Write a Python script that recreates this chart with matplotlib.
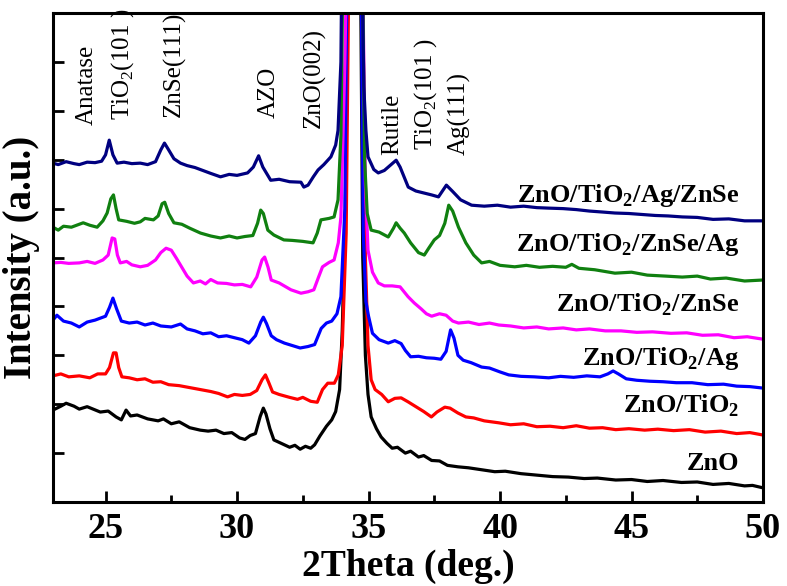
import matplotlib.pyplot as plt
from matplotlib.ticker import MultipleLocator

plt.rcParams['font.family'] = 'Liberation Serif'
plt.rcParams['mathtext.fontset'] = 'custom'
plt.rcParams['mathtext.rm'] = 'Liberation Serif'
plt.rcParams['mathtext.bf'] = 'Liberation Serif:bold'

# XRD patterns (2theta, offset intensity)
zno = [(23.0, 1.88), (23.3, 1.96), (23.5, 2.02), (23.8, 1.96), (24.0, 1.90), (24.3, 1.95),
       (24.8, 1.84), (25.1, 1.86), (25.4, 1.74), (25.6, 1.68), (25.78, 1.88), (25.95, 1.76),
       (26.2, 1.78), (26.6, 1.70), (27.0, 1.66), (27.2, 1.70), (27.5, 1.60), (27.8, 1.64),
       (28.2, 1.52), (28.6, 1.47), (28.9, 1.45), (29.2, 1.47), (29.5, 1.40), (29.8, 1.42),
       (30.1, 1.31), (30.3, 1.28), (30.5, 1.36), (30.7, 1.40), (30.88, 1.75), (31.0, 1.92),
       (31.1, 1.80), (31.25, 1.50), (31.4, 1.27), (31.6, 1.22), (32.0, 1.12), (32.2, 1.16),
       (32.4, 1.08), (32.6, 1.14), (32.8, 1.10), (32.95, 1.17), (33.15, 1.35), (33.4, 1.55),
       (33.6, 1.68), (33.75, 1.85), (33.9, 2.3), (34.0, 3.5), (34.12, 6.0), (34.22, 12.0),
       (34.45, 40.0), (34.68, 12.0), (34.78, 5.0), (34.88, 3.0), (34.98, 2.2), (35.1, 1.74),
       (35.3, 1.50), (35.48, 1.33), (35.7, 1.20), (35.9, 1.10), (36.1, 1.12), (36.4, 1.00),
       (36.6, 1.04), (36.9, 0.92), (37.1, 0.95), (37.4, 0.85), (37.7, 0.84), (38.0, 0.75),
       (38.4, 0.72), (38.8, 0.70), (39.3, 0.66), (39.8, 0.62), (40.2, 0.63), (40.8, 0.58),
       (41.4, 0.55), (42.0, 0.52), (42.6, 0.51), (43.2, 0.48), (43.7, 0.49), (44.4, 0.45),
       (45.0, 0.46), (45.6, 0.42), (46.2, 0.44), (46.9, 0.40), (47.5, 0.41), (48.1, 0.36),
       (48.7, 0.38), (49.3, 0.33), (49.6, 0.34), (50.0, 0.29)]

zno_tio2 = [(23.0, 2.58), (23.3, 2.62), (23.6, 2.56), (24.0, 2.58), (24.4, 2.54), (24.7, 2.62),
            (25.0, 2.62), (25.15, 2.75), (25.3, 3.05), (25.4, 3.05), (25.5, 2.75), (25.62, 2.56),
            (25.9, 2.54), (26.2, 2.50), (26.5, 2.52), (26.8, 2.45), (27.1, 2.46), (27.4, 2.40),
            (27.8, 2.38), (28.2, 2.34), (28.6, 2.30), (29.0, 2.26), (29.3, 2.22), (29.64, 2.15),
            (29.9, 2.20), (30.2, 2.18), (30.5, 2.20), (30.75, 2.28), (30.95, 2.50), (31.08, 2.60),
            (31.2, 2.45), (31.35, 2.25), (31.6, 2.20), (32.0, 2.14), (32.3, 2.10), (32.5, 2.14),
            (32.8, 2.06), (33.05, 2.04), (33.25, 2.30), (33.45, 2.43), (33.7, 2.43), (33.85, 2.60),
            (34.0, 3.2), (34.15, 5.5), (34.27, 12.0), (34.5, 40.0), (34.75, 12.0), (34.88, 5.0),
            (34.98, 3.2), (35.1, 2.5), (35.25, 2.30), (35.5, 2.20), (35.75, 2.05), (36.0, 2.12),
            (36.24, 2.13), (36.5, 2.05), (36.8, 1.95), (37.1, 1.85), (37.39, 1.74), (37.6, 1.84),
            (37.9, 1.94), (38.1, 1.92), (38.4, 1.82), (38.7, 1.74), (39.0, 1.72), (39.4, 1.66),
            (39.95, 1.62), (40.4, 1.58), (40.9, 1.60), (41.4, 1.54), (41.9, 1.55), (42.4, 1.52),
            (42.9, 1.56), (43.4, 1.51), (43.9, 1.52), (44.4, 1.48), (44.9, 1.50), (45.5, 1.47),
            (46.0, 1.49), (46.6, 1.46), (47.2, 1.48), (47.8, 1.43), (48.4, 1.45), (49.0, 1.40),
            (49.5, 1.42), (50.0, 1.37)]

zno_tio2_ag = [(23.0, 3.72), (23.15, 3.82), (23.4, 3.70), (23.7, 3.66), (24.0, 3.58), (24.3, 3.68),
               (24.6, 3.72), (24.8, 3.76), (25.0, 3.80), (25.15, 3.98), (25.28, 4.17), (25.42, 3.95),
               (25.6, 3.70), (25.9, 3.66), (26.2, 3.68), (26.5, 3.62), (26.8, 3.66), (27.1, 3.60),
               (27.5, 3.58), (27.85, 3.64), (28.1, 3.54), (28.4, 3.50), (28.7, 3.44), (29.0, 3.46),
               (29.3, 3.38), (29.6, 3.40), (29.9, 3.36), (30.2, 3.32), (30.45, 3.25), (30.7, 3.40),
               (30.9, 3.68), (31.0, 3.78), (31.12, 3.65), (31.3, 3.40), (31.5, 3.32), (31.8, 3.25),
               (32.1, 3.20), (32.4, 3.15), (32.7, 3.18), (32.95, 3.22), (33.2, 3.55), (33.4, 3.66),
               (33.6, 3.70), (33.8, 3.85), (33.95, 4.2), (34.1, 6.0), (34.2, 12.0), (34.45, 40.0),
               (34.7, 12.0), (34.8, 5.5), (34.9, 4.1), (35.0, 3.8), (35.15, 3.45), (35.4, 3.32),
               (35.75, 3.25), (36.0, 3.30), (36.24, 3.24), (36.4, 3.10), (36.6, 2.97), (36.9, 2.98),
               (37.2, 2.95), (37.5, 2.94), (37.75, 2.92), (37.95, 3.08), (38.12, 3.52), (38.25, 3.35),
               (38.4, 3.00), (38.6, 2.90), (38.9, 2.85), (39.3, 2.76), (39.6, 2.74), (40.0, 2.66),
               (40.33, 2.60), (40.8, 2.57), (41.3, 2.56), (41.85, 2.54), (42.3, 2.57), (42.8, 2.55),
               (43.3, 2.58), (43.8, 2.56), (44.1, 2.62), (44.3, 2.68), (44.5, 2.62), (44.8, 2.52),
               (45.2, 2.49), (45.7, 2.47), (46.2, 2.46), (46.7, 2.44), (47.3, 2.44), (47.9, 2.40),
               (48.5, 2.41), (49.0, 2.37), (49.5, 2.36), (50.0, 2.33)]

zno_tio2_znse = [(23.0, 4.89), (23.3, 4.90), (23.6, 4.88), (24.0, 4.89), (24.3, 4.92), (24.6, 4.88),
                 (24.9, 4.95), (25.1, 5.05), (25.25, 5.40), (25.35, 5.38), (25.45, 5.05), (25.56, 4.89),
                 (25.8, 4.92), (26.0, 4.85), (26.32, 4.81), (26.6, 4.84), (26.9, 4.95), (27.1, 5.10),
                 (27.3, 5.19), (27.5, 5.15), (27.7, 4.98), (27.9, 4.80), (28.1, 4.62), (28.34, 4.48),
                 (28.6, 4.52), (28.8, 4.46), (29.0, 4.55), (29.26, 4.48), (29.6, 4.47), (29.9, 4.44),
                 (30.2, 4.45), (30.52, 4.40), (30.75, 4.60), (30.95, 4.95), (31.05, 5.01), (31.18, 4.80),
                 (31.3, 4.54), (31.6, 4.48), (32.05, 4.34), (32.43, 4.27), (32.7, 4.30), (32.92, 4.34),
                 (33.1, 4.60), (33.25, 4.81), (33.5, 4.90), (33.69, 4.95), (33.85, 5.30), (33.95, 5.83),
                 (34.1, 9.0), (34.2, 12.0), (34.45, 40.0), (34.75, 12.0), (34.88, 6.5), (34.98, 5.15),
                 (35.15, 4.70), (35.37, 4.48), (35.6, 4.42), (35.9, 4.42), (36.2, 4.40), (36.5, 4.20),
                 (36.74, 4.07), (37.0, 3.95), (37.2, 3.85), (37.4, 3.80), (37.7, 3.85), (37.95, 3.82),
                 (38.2, 3.70), (38.42, 3.66), (38.8, 3.68), (39.2, 3.63), (39.6, 3.66), (39.95, 3.62),
                 (40.4, 3.60), (40.9, 3.56), (41.4, 3.58), (41.85, 3.54), (42.4, 3.56), (42.9, 3.52),
                 (43.4, 3.54), (44.0, 3.50), (44.6, 3.50), (45.2, 3.47), (45.8, 3.48), (46.5, 3.45),
                 (47.1, 3.46), (47.7, 3.41), (48.3, 3.42), (48.9, 3.36), (49.4, 3.38), (50.0, 3.33)]

zno_tio2_znse_ag = [(23.0, 5.62), (23.2, 5.56), (23.4, 5.64), (23.7, 5.62), (24.0, 5.68), (24.15, 5.71),
                    (24.4, 5.66), (24.68, 5.62), (24.9, 5.75), (25.06, 5.91), (25.2, 6.20), (25.3, 6.28),
                    (25.4, 6.00), (25.5, 5.77), (25.8, 5.74), (26.1, 5.70), (26.32, 5.73), (26.5, 5.80),
                    (26.82, 5.77), (27.0, 5.85), (27.15, 6.10), (27.25, 6.13), (27.4, 5.90), (27.6, 5.71),
                    (27.9, 5.68), (28.2, 5.60), (28.61, 5.50), (29.0, 5.44), (29.37, 5.40), (29.7, 5.44),
                    (30.0, 5.40), (30.3, 5.43), (30.6, 5.45), (30.78, 5.70), (30.9, 5.97), (31.0, 5.90),
                    (31.17, 5.56), (31.4, 5.46), (31.78, 5.36), (32.1, 5.35), (32.5, 5.33), (32.89, 5.30),
                    (33.05, 5.50), (33.19, 5.77), (33.5, 5.80), (33.69, 5.83), (33.84, 6.18), (33.95, 7.5),
                    (34.05, 12.0), (34.4, 40.0), (34.75, 12.0), (34.85, 7.0), (34.95, 5.9), (35.1, 5.56),
                    (35.4, 5.52), (35.75, 5.42), (35.95, 5.60), (36.05, 5.71), (36.2, 5.60), (36.36, 5.50),
                    (36.6, 5.30), (36.9, 5.10), (37.12, 5.05), (37.3, 5.20), (37.5, 5.36), (37.7, 5.45),
                    (37.9, 5.70), (38.05, 6.07), (38.2, 5.95), (38.42, 5.62), (38.7, 5.30), (39.0, 5.05),
                    (39.3, 4.89), (39.6, 4.92), (40.0, 4.84), (40.56, 4.81), (41.0, 4.84), (41.5, 4.80),
                    (42.0, 4.82), (42.5, 4.80), (42.73, 4.86), (43.0, 4.78), (43.6, 4.75), (44.37, 4.68),
                    (45.0, 4.70), (45.6, 4.64), (46.3, 4.62), (46.93, 4.60), (47.5, 4.62), (48.0, 4.56),
                    (48.6, 4.58), (49.3, 4.52), (50.0, 4.54)]

zno_tio2_ag_znse = [(23.0, 6.93), (23.2, 6.90), (23.5, 6.96), (23.8, 6.92), (24.0, 6.90), (24.3, 6.95),
                    (24.6, 6.94), (24.85, 6.97), (25.0, 7.10), (25.14, 7.40), (25.28, 7.10), (25.44, 6.93),
                    (25.7, 6.95), (26.0, 6.92), (26.32, 6.93), (26.6, 6.90), (26.9, 6.96), (27.1, 7.20),
                    (27.24, 7.34), (27.4, 7.20), (27.6, 7.02), (27.85, 6.93), (28.1, 6.88), (28.4, 6.84),
                    (28.7, 6.78), (29.0, 6.72), (29.37, 6.65), (29.7, 6.70), (30.0, 6.68), (30.4, 6.73),
                    (30.62, 6.85), (30.82, 7.08), (30.98, 6.85), (31.28, 6.58), (31.6, 6.60), (32.0, 6.55),
                    (32.43, 6.54), (32.54, 6.44), (32.7, 6.48), (32.9, 6.65), (33.08, 6.79), (33.3, 6.90),
                    (33.57, 7.06), (33.75, 7.30), (33.84, 7.60), (33.95, 9.0), (34.0, 12.0), (34.38, 40.0),
                    (34.72, 12.0), (34.82, 8.5), (34.9, 7.6), (34.98, 7.06), (35.2, 6.80), (35.37, 6.73),
                    (35.6, 6.78), (35.75, 6.85), (36.05, 6.99), (36.2, 6.85), (36.51, 6.44), (36.8, 6.36),
                    (37.1, 6.32), (37.4, 6.28), (37.66, 6.24), (37.96, 6.48), (38.2, 6.35), (38.5, 6.18),
                    (38.92, 6.07), (39.4, 6.05), (39.9, 6.07), (40.4, 6.03), (40.9, 6.05), (41.4, 6.02),
                    (41.85, 6.01), (42.4, 6.00), (42.9, 5.98), (43.4, 5.95), (43.9, 5.93), (44.37, 5.91),
                    (44.9, 5.90), (45.4, 5.88), (45.9, 5.86), (46.4, 5.85), (46.93, 5.83), (47.5, 5.82),
                    (48.1, 5.78), (48.7, 5.79), (49.3, 5.75), (50.0, 5.75)]

series = [
    (zno, 'black', 'ZnO', 0.65),
    (zno_tio2, '#ff0000', r'ZnO/TiO$_\mathbf{2}$', 1.84),
    (zno_tio2_ag, '#0000ff', r'ZnO/TiO$_\mathbf{2}$/Ag', 2.80),
    (zno_tio2_znse, '#ff00ff', r'ZnO/TiO$_\mathbf{2}$/ZnSe', 3.89),
    (zno_tio2_znse_ag, '#108010', r'ZnO/TiO$_\mathbf{2}$/ZnSe/Ag', 5.13),
    (zno_tio2_ag_znse, '#000080', r'ZnO/TiO$_\mathbf{2}$/Ag/ZnSe', 6.13),
]

peak_labels = ['Anatase', r'TiO$_\mathrm{2}$(101 )', 'ZnSe(111)', 'AZO', 'ZnO(002)',
               'Rutile', r'TiO$_\mathrm{2}$(101 )', 'Ag(111)']
peak_x = [24.30, 25.63, 27.60, 31.21, 32.94, 35.90, 37.16, 38.46]
peak_y = [7.71, 7.81, 7.87, 7.85, 7.65, 7.10, 7.20, 7.10]

fig = plt.figure(figsize=(7.87, 5.86), dpi=100)
ax = fig.add_axes([0.0673, 0.1433, 0.9022, 0.8345])

for pts, col, name, ly in series:
    xs, ys = zip(*pts)
    ax.plot(xs, ys, color=col, lw=2.3)
    ax.text(49.1, ly, name, ha='right', va='baseline', fontsize=19, fontweight='bold')

for lab, px, py in zip(peak_labels, peak_x, peak_y):
    ax.text(px, py, lab, rotation=90, ha='center', va='bottom', fontsize=18)

ax.set_xlim(23, 50)
ax.set_ylim(0, 10)
ax.xaxis.set_major_locator(MultipleLocator(5))
ax.xaxis.set_minor_locator(MultipleLocator(2.5))
ax.yaxis.set_major_locator(MultipleLocator(1))
ax.set_yticklabels([])
ax.tick_params(direction='in', width=2, length=8, labelsize=26, pad=8)
ax.tick_params(which='minor', direction='in', width=2, length=5)
for lab in ax.get_xticklabels():
    lab.set_fontweight('bold')
for s in ax.spines.values():
    s.set_linewidth(2.2)

ax.set_xlabel('2Theta (deg.)', fontsize=27, fontweight='bold', labelpad=2)
ax.set_ylabel('Intensity (a.u.)', fontsize=28, fontweight='bold', labelpad=1)

fig.savefig('out.png', dpi=100)
